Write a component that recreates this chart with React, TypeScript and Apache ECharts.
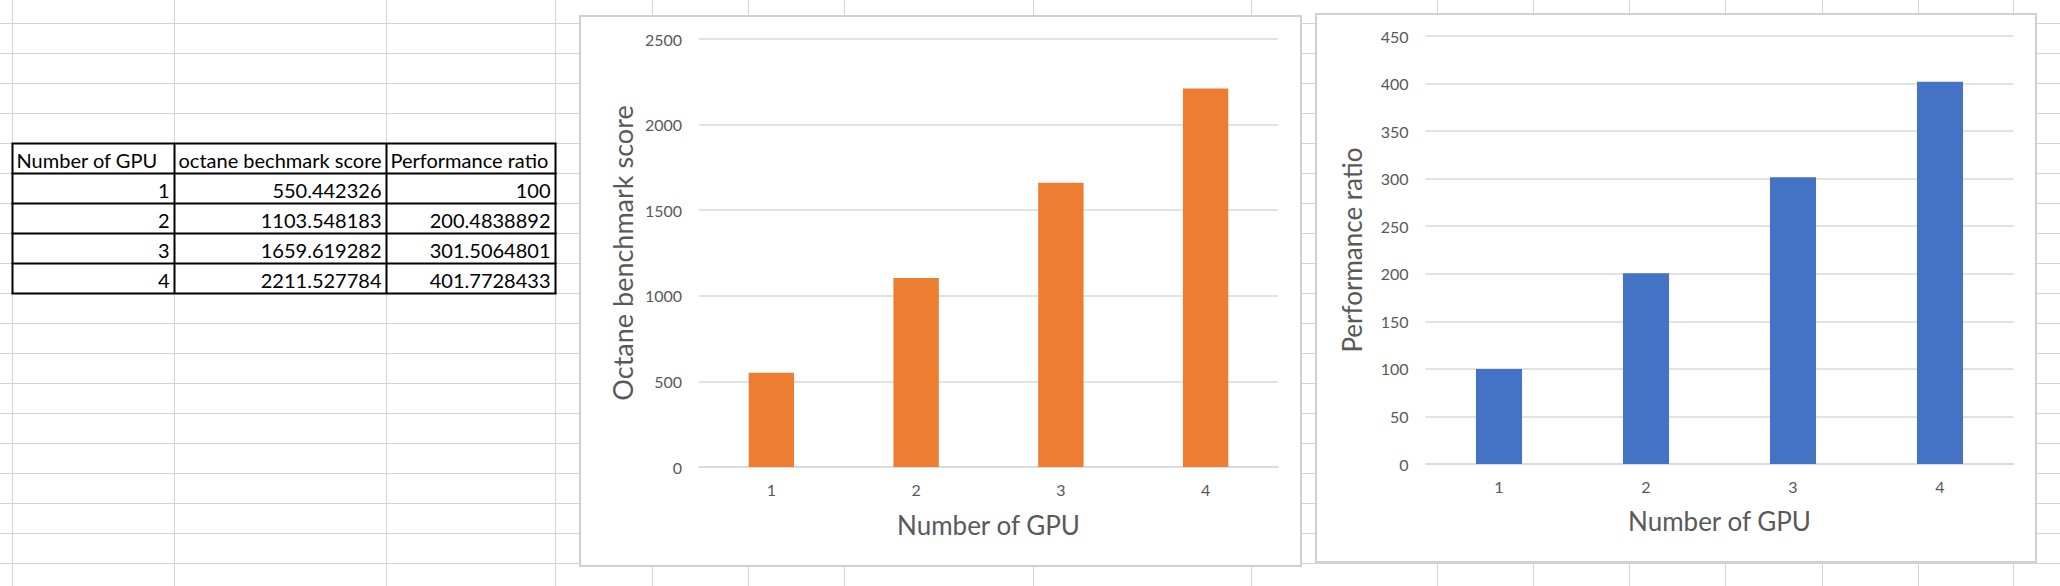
import React, { useEffect, useRef } from "react";
import * as echarts from "echarts";

// ---- data ----
const gpuCounts = [1, 2, 3, 4];
const octaneScores = [550.442326, 1103.548183, 1659.619282, 2211.527784];
const perfRatios = [100, 200.4838892, 301.5064801, 401.7728433];
const tableHeaders = ["Number of GPU", "octane bechmark score", "Performance ratio"];
const xTitle = "Number of GPU";
const yTitleScore = "Octane benchmark score";
const yTitleRatio = "Performance ratio";

// ---- layout constants ----
const W = 2060;
const H = 586;
const FONT = "Lato, 'Open Sans', sans-serif";
const SHEET_COLS = [12.5, 174.5, 386.5, 555.5, 652.5, 748.5, 844.5, 1033.5, 1251.5, 1437.5, 1533.5, 1629.5, 1725.5, 1822.5, 1918.5, 2013.5];
const SHEET_ROW0 = 23.5;
const SHEET_ROW_H = 30;
const TABLE_X = [12.5, 174.5, 386.5, 555.5];
const TABLE_TOP = 143.5;
const GRID_LINE = "#d4d4d4";
const AXIS_GRAY = "#d9d9d9";
const TEXT_GRAY = "#595959";

function buildGraphic() {
  const els: any[] = [];
  // spreadsheet gridlines
  for (let y = SHEET_ROW0; y < H; y += SHEET_ROW_H) {
    els.push({ type: "line", z: -20, silent: true, shape: { x1: 0, y1: y, x2: W, y2: y }, style: { stroke: GRID_LINE, lineWidth: 1 } });
  }
  SHEET_COLS.forEach((x) => {
    els.push({ type: "line", z: -20, silent: true, shape: { x1: x, y1: 0, x2: x, y2: H }, style: { stroke: GRID_LINE, lineWidth: 1 } });
  });
  // table
  const nRows = gpuCounts.length + 1;
  const tBottom = TABLE_TOP + nRows * SHEET_ROW_H;
  for (let r = 0; r <= nRows; r++) {
    const y = TABLE_TOP + r * SHEET_ROW_H;
    els.push({ type: "line", z: -5, shape: { x1: TABLE_X[0] - 1, y1: y, x2: TABLE_X[3] + 1, y2: y }, style: { stroke: "#000", lineWidth: 2 } });
  }
  TABLE_X.forEach((x) => {
    els.push({ type: "line", z: -5, shape: { x1: x, y1: TABLE_TOP, x2: x, y2: tBottom }, style: { stroke: "#000", lineWidth: 2 } });
  });
  const cellFont = { fontFamily: FONT, fontSize: 20, fill: "#000" };
  tableHeaders.forEach((h, i) => {
    els.push({ type: "text", z: -4, x: TABLE_X[i] + 4, y: TABLE_TOP + SHEET_ROW_H - 4, style: { ...cellFont, text: h, align: "left", textAlign: "left", verticalAlign: "bottom", textVerticalAlign: "bottom" } });
  });
  gpuCounts.forEach((g, r) => {
    const yb = TABLE_TOP + (r + 2) * SHEET_ROW_H - 4;
    const vals = [String(g), String(octaneScores[r]), String(perfRatios[r])];
    vals.forEach((v, i) => {
      els.push({ type: "text", z: -4, x: TABLE_X[i + 1] - 5, y: yb, style: { ...cellFont, text: v, align: "right", textAlign: "right", verticalAlign: "bottom", textVerticalAlign: "bottom" } });
    });
  });
  // chart boxes
  els.push({ type: "rect", z: -10, shape: { x: 580, y: 16, width: 721, height: 550 }, style: { fill: "#fff", stroke: "#d0d0d0", lineWidth: 2 } });
  els.push({ type: "rect", z: -10, shape: { x: 1316, y: 14, width: 720, height: 548 }, style: { fill: "#fff", stroke: "#d0d0d0", lineWidth: 2 } });
  return els;
}

function makeXAxis(gridIndex: number, nameGap: number) {
  return {
    type: "category",
    gridIndex,
    data: gpuCounts.map(String),
    z: 5,
    axisLine: { show: true, lineStyle: { color: AXIS_GRAY, width: 1.5 } },
    axisTick: { show: false },
    axisLabel: { color: TEXT_GRAY, fontFamily: FONT, fontSize: 16, margin: 14 },
    name: xTitle,
    nameLocation: "middle",
    nameGap,
    nameTextStyle: { color: TEXT_GRAY, fontFamily: FONT, fontSize: 26 },
  };
}

function makeYAxis(gridIndex: number, max: number, interval: number, name: string, nameGap: number, nameSize: number) {
  return {
    type: "value",
    gridIndex,
    min: 0,
    max,
    interval,
    z: 5,
    axisLine: { show: false },
    axisTick: { show: false },
    splitLine: { show: true, lineStyle: { color: AXIS_GRAY, width: 1.5 } },
    axisLabel: { color: TEXT_GRAY, fontFamily: FONT, fontSize: 16, margin: 17, formatter: (v: number) => String(v) },
    name,
    nameLocation: "middle",
    nameGap,
    nameTextStyle: { color: TEXT_GRAY, fontFamily: FONT, fontSize: nameSize },
  };
}

export default function App() {
  const ref = useRef<HTMLDivElement>(null);
  useEffect(() => {
    if (!ref.current) return;
    const chart = echarts.init(ref.current, null, { renderer: "svg", width: W, height: H });
    chart.setOption({
      animation: false,
      backgroundColor: "#ffffff",
      graphic: { elements: buildGraphic() },
      grid: [
        { left: 699, top: 39, width: 579, height: 428 },
        { left: 1425.5, top: 36, width: 588, height: 428 },
      ],
      xAxis: [makeXAxis(0, 45), makeXAxis(1, 44)],
      yAxis: [
        makeYAxis(0, 2500, 500, yTitleScore, 63, 27),
        makeYAxis(1, 450, 50, yTitleRatio, 61, 26),
      ],
      series: [
        { type: "bar", xAxisIndex: 0, yAxisIndex: 0, data: octaneScores, barWidth: "31.35%", itemStyle: { color: "#ED7D31" }, z: 6 },
        { type: "bar", xAxisIndex: 1, yAxisIndex: 1, data: perfRatios, barWidth: "31.35%", itemStyle: { color: "#4472C4" }, z: 6 },
      ],
    });
    return () => chart.dispose();
  }, []);
  return <div ref={ref} style={{ position: "absolute", left: 0, top: 0, width: W, height: H }} />;
}
